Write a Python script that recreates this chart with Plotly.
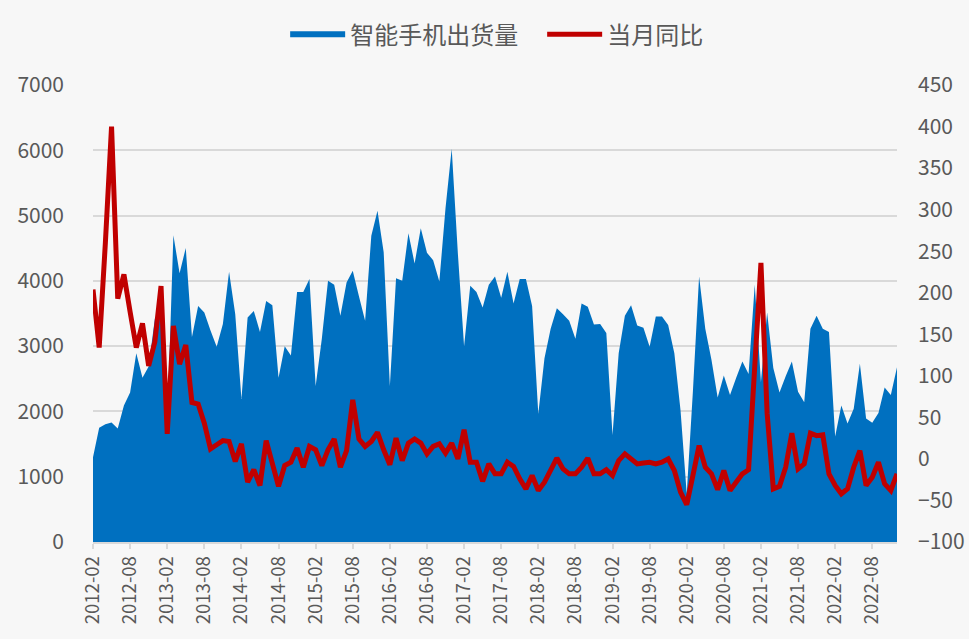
import pandas as pd
import plotly.graph_objs as go

# Monthly periods 2012-02 .. 2022-12
months = pd.period_range("2012-02", "2022-12", freq="M").strftime("%Y-%m").tolist()

# 智能手机出货量 (万部)
shipments = [
    1300, 1750, 1805, 1830, 1740, 2090, 2290, 2890, 2515, 2690, 3420, 3600,
    1800, 4700, 4115, 4505, 3140, 3615, 3515, 3240, 2990, 3340, 4140, 3490,
    2190, 3440, 3540, 3215, 3690, 3625, 2515, 3000, 2855, 3830, 3830, 4030,
    2390, 3115, 4000, 3940, 3465, 3975, 4155, 3765, 3390, 4690, 5075, 4440,
    2390, 4040, 4000, 4730, 4265, 4805, 4430, 4315, 3990, 5115, 6025, 4415,
    3000, 3925, 3830, 3590, 3940, 4065, 3740, 4140, 3655, 4030, 4030, 3615,
    1965, 2815, 3265, 3580, 3490, 3390, 3115, 3655, 3605, 3330, 3340, 3200,
    1640, 2890, 3465, 3625, 3315, 3280, 2990, 3455, 3455, 3325, 2890, 2015,
    740, 2310, 4065, 3265, 2790, 2215, 2550, 2250, 2515, 2765, 2575, 3940,
    2450, 3515, 2665, 2290, 2540, 2765, 2300, 2140, 3265, 3465, 3265, 3215,
    1615, 2090, 1815, 2040, 2730, 1890, 1825, 1975, 2365, 2250, 2675,
]

# 当月同比 (%)
yoy = [
    204, 134, 260, 400, 193, 222, 177, 134, 163, 112, 141, 208,
    30, 160, 114, 137, 68, 66, 43, 12, 17, 22, 21, -3,
    18, -28, -13, -32, 22, -3, -33, -8, -4, 13, -10, 15,
    11, -8, 11, 24, -10, 10, 71, 24, 15, 21, 32, 11,
    -7, 25, -2, 19, 24, 19, 6, 15, 18, 7, 19, 0,
    35, -4, -4, -27, -6, -18, -18, -4, -9, -24, -36, -20,
    -38, -28, -14, 1, -12, -18, -18, -10, 1, -18, -18, -13,
    -20, -2, 6, 0, -6, -5, -4, -6, -4, 0, -14, -40,
    -55, -20, 16, -10, -18, -37, -14, -38, -27, -18, -13, 100,
    236, 55, -36, -33, -10, 31, -12, -6, 31, 28, 29, -18,
    -32, -42, -36, -10, 10, -32, -22, -4, -30, -38, -18,
]

tick_labels = months[::6]

font_family = "Noto Sans CJK SC"
grey_text = "#595959"
grid_grey = "#d9d9d9"

fig = go.Figure()

fig.add_trace(go.Scatter(
    x=months, y=shipments, name="智能手机出货量",
    mode="none", fill="tozeroy", fillcolor="#0070C0",
))

fig.add_trace(go.Scatter(
    x=months, y=yoy, name="当月同比", yaxis="y2",
    mode="lines", line=dict(color="#C00000", width=5),
))

fig.update_layout(
    width=969, height=639,
    paper_bgcolor="#f7f7f7", plot_bgcolor="#f7f7f7",
    margin=dict(l=93, r=72, t=76, b=97),
    font=dict(family=font_family, color=grey_text, size=21),
    showlegend=True,
    legend=dict(orientation="h", x=0.239, xanchor="left", y=1.11, yanchor="middle",
                font=dict(size=24, color=grey_text), itemwidth=55,
                entrywidth=187, entrywidthmode="pixels"),
    xaxis=dict(
        type="category", range=[0, len(months) - 1],
        tickmode="array", tickvals=tick_labels, ticktext=tick_labels,
        tickangle=-90, tickfont=dict(size=18.5, color=grey_text),
        showgrid=False, showline=True, linecolor=grid_grey, linewidth=1.5,
        ticks="outside", ticklen=5, tickcolor=grid_grey, tickwidth=1.5,
    ),
    yaxis=dict(
        range=[0, 7000], dtick=1000, showgrid=True, gridcolor=grid_grey, gridwidth=1.5,
        zeroline=False, tickfont=dict(size=21, color=grey_text), ticks="", ticklabelstandoff=28,
        automargin=False,
    ),
    yaxis2=dict(
        range=[-100, 450], dtick=50, overlaying="y", side="right", showgrid=False,
        zeroline=False, tickfont=dict(size=21, color=grey_text), ticklabelstandoff=20,
        automargin=False,
    ),
)

fig.write_html("out.html", config={"displayModeBar": False},
               post_script="document.body.style.margin='0';")
